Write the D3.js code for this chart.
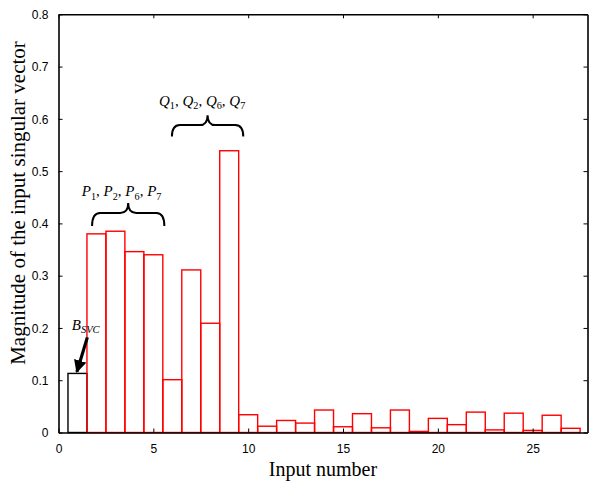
<!DOCTYPE html>
<html>
<head>
<meta charset="utf-8">
<script src="https://cdn.jsdelivr.net/npm/d3@7"></script>
<style>
  html, body { margin: 0; padding: 0; background: #fff; }
  svg { display: block; }
</style>
</head>
<body>
<svg id="chart" width="589" height="482"></svg>
<script>
// Input numbers and magnitudes of the input singular vector
const inputNumbers = [1,2,3,4,5,6,7,8,9,10,11,12,13,14,15,16,17,18,19,20,21,22,23,24,25,26,27];
const magnitudes = [0.113,0.380,0.385,0.346,0.340,0.101,0.311,0.209,0.539,0.034,0.012,0.023,0.018,0.043,0.011,0.036,0.009,0.043,0.002,0.027,0.015,0.039,0.005,0.037,0.004,0.033,0.008];
const xTicks = [0,5,10,15,20,25];
const yTicks = [0,0.1,0.2,0.3,0.4,0.5,0.6,0.7,0.8];
const yTickLabels = ["0","0.1","0.2","0.3","0.4","0.5","0.6","0.7","0.8"];

const svg = d3.select("#chart");
const plotLeft = 58.5, plotRight = 587.5, plotTop = 14.3, plotBottom = 432.5;

const x = d3.scaleLinear().domain([0, 27.89]).range([plotLeft, plotRight]);
const y = d3.scaleLinear().domain([0, 0.8]).range([plotBottom, plotTop]);

// Bars: width of one input, centred on the input number
const bars = svg.append("g");
bars.selectAll("rect")
  .data(inputNumbers.map((n, i) => ({n, v: magnitudes[i]})))
  .join("rect")
  .attr("x", d => x(d.n - 0.5))
  .attr("y", d => y(d.v))
  .attr("width", d => x(d.n + 0.5) - x(d.n - 0.5))
  .attr("height", d => y(0) - y(d.v))
  .attr("fill", "none")
  .attr("stroke", d => d.n === 1 ? "#000" : "#ff0000")
  .attr("stroke-width", 1.4);
// the red bars are drawn above the black one
bars.selectAll("rect").filter(d => d.n === 1).lower();

// Axes with inward ticks on all four sides
const tickFont = "'Liberation Sans', Arial, sans-serif";
const axB = svg.append("g").attr("transform", `translate(0,${plotBottom})`)
  .call(d3.axisBottom(x).tickValues(xTicks).tickSizeInner(-4).tickSizeOuter(0).tickPadding(12).tickFormat(d3.format("d")));
const axT = svg.append("g").attr("transform", `translate(0,${plotTop})`)
  .call(d3.axisTop(x).tickValues(xTicks).tickSizeInner(-4).tickSizeOuter(0).tickFormat(""));
const axL = svg.append("g").attr("transform", `translate(${plotLeft},0)`)
  .call(d3.axisLeft(y).tickValues(yTicks).tickSizeInner(-4).tickSizeOuter(0).tickPadding(10)
    .tickFormat((d, i) => yTickLabels[i]));
const axR = svg.append("g").attr("transform", `translate(${plotRight},0)`)
  .call(d3.axisRight(y).tickValues(yTicks).tickSizeInner(-4).tickSizeOuter(0).tickFormat(""));

[axB, axT, axL, axR].forEach(a => {
  a.select(".domain").attr("stroke", "#000").attr("stroke-width", 1.6);
  a.selectAll(".tick line").attr("stroke", "#000").attr("stroke-width", 1);
  a.selectAll(".tick text").attr("font-family", tickFont).attr("font-size", 12).attr("fill", "#000");
});
axL.selectAll(".tick text").attr("dy", "0.35em");
axB.selectAll(".tick text").attr("dy", "0.71em");

// Axis titles
const serif = "'Liberation Serif', 'Times New Roman', serif";
svg.append("text")
  .attr("x", (plotLeft + plotRight) / 2).attr("y", 476)
  .attr("text-anchor", "middle")
  .attr("font-family", serif).attr("font-size", 20)
  .text("Input number");
svg.append("text")
  .attr("transform", `translate(25,203) rotate(-90)`)
  .attr("text-anchor", "middle")
  .attr("font-family", serif).attr("font-size", 21)
  .text("Magnitude of the input singular vector");

// Annotation helpers
function subscriptLabel(px, py, letter, subs, size) {
  const t = svg.append("text")
    .attr("x", px).attr("y", py)
    .attr("font-family", serif).attr("font-size", size).attr("font-style", "italic");
  const shift = size * 0.22;
  subs.forEach((s, i) => {
    if (i > 0) t.append("tspan").attr("font-style", "normal").attr("dy", -shift).text(", ");
    t.append("tspan").text(letter);
    t.append("tspan").attr("font-size", size * 0.68).attr("font-style", "normal").attr("dy", shift).text(s);
  });
  return t;
}

function brace(x0, x1, yLine, yEnd, yTip) {
  const px0 = x(x0), px1 = x(x1), pm = (px0 + px1) / 2;
  const l = y(yLine), e = y(yEnd), tp = y(yTip);
  const r = 8;
  const p = d3.path();
  p.moveTo(px0, e);
  p.quadraticCurveTo(px0, l, px0 + r, l);
  p.lineTo(pm - r, l);
  p.quadraticCurveTo(pm, l, pm, tp);
  p.quadraticCurveTo(pm, l, pm + r, l);
  p.lineTo(px1 - r, l);
  p.quadraticCurveTo(px1, l, px1, e);
  svg.append("path").attr("d", p.toString())
    .attr("fill", "none").attr("stroke", "#000").attr("stroke-width", 2);
}

// P group brace and label
brace(1.77, 5.58, 0.420, 0.395, 0.439);
subscriptLabel(x(1.23), y(0.452), "P", ["1", "2", "6", "7"], 15);

// Q group brace and label
brace(5.98, 9.74, 0.588, 0.566, 0.607);
subscriptLabel(x(5.3), y(0.625), "Q", ["1", "2", "6", "7"], 15);

// B_SVC label and arrow
const bt = svg.append("text")
  .attr("x", x(0.7)).attr("y", y(0.196))
  .attr("font-family", serif).attr("font-size", 15).attr("font-style", "italic");
bt.append("tspan").text("B");
bt.append("tspan").attr("font-size", 10.5).attr("dy", 3).text("SVC");

svg.append("defs").append("marker")
  .attr("id", "head").attr("viewBox", "0 0 10 10")
  .attr("refX", 9).attr("refY", 5)
  .attr("markerWidth", 4).attr("markerHeight", 4)
  .attr("orient", "auto")
  .append("path").attr("d", "M0,0 L10,5 L0,10 z").attr("fill", "#000");

svg.append("line")
  .attr("x1", x(1.52)).attr("y1", y(0.182))
  .attr("x2", x(0.97)).attr("y2", y(0.116))
  .attr("stroke", "#000").attr("stroke-width", 3.2)
  .attr("marker-end", "url(#head)");
</script>
</body>
</html>
